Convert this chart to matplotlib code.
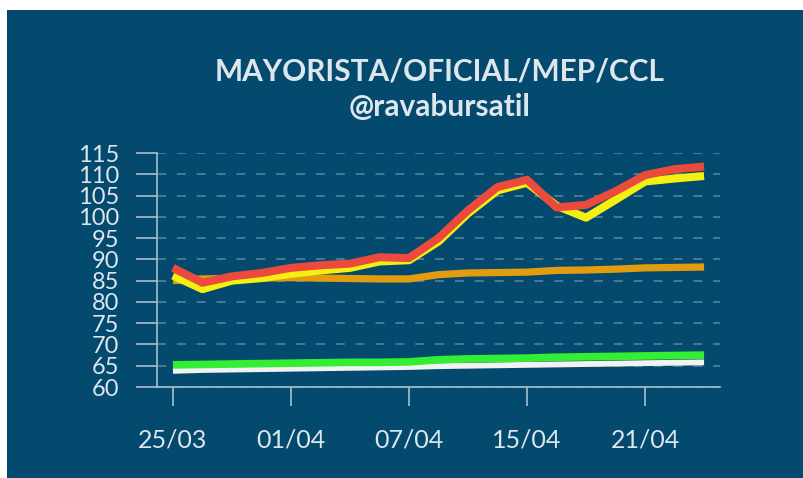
import matplotlib
matplotlib.use("Agg")
import matplotlib.pyplot as plt
from matplotlib.patches import Rectangle

# ---- data ----
tick_labels = ["25/03", "01/04", "07/04", "15/04", "21/04"]
tick_index = [0, 4, 8, 12, 16]

ccl = [88.0, 84.5, 86.0, 86.8, 88.0, 88.6, 89.0, 90.5, 90.3, 95.0, 101.5,
       107.0, 108.7, 102.2, 102.8, 106.0, 109.8, 111.2, 111.8]
mep = [86.2, 83.0, 85.0, 85.6, 86.6, 87.4, 88.0, 89.5, 89.8, 94.2, 100.8,
       106.2, 108.0, 102.6, 99.8, 104.0, 108.3, 109.0, 109.6]
oficial = [85.0, 85.4, 85.5, 85.6, 85.7, 85.6, 85.5, 85.4, 85.4, 86.4, 86.8,
           86.9, 87.0, 87.4, 87.5, 87.7, 88.0, 88.1, 88.2]
mayorista_green = [65.2, 65.3, 65.4, 65.5, 65.6, 65.7, 65.8, 65.8, 65.9, 66.4, 66.6,
                   66.7, 66.8, 67.0, 67.1, 67.2, 67.3, 67.4, 67.5]
white_line = [63.8, 64.0, 64.1, 64.2, 64.3, 64.4, 64.5, 64.6, 64.7, 64.9, 65.0,
              65.1, 65.2, 65.3, 65.4, 65.5, 65.6, 65.7, 65.8]

x = list(range(len(ccl)))

BG = "#044a6e"
TXT = "#dde6ec"

plt.rcParams['font.family'] = ['Lato', 'DejaVu Sans']

fig = plt.figure(figsize=(8.04, 4.78), dpi=100)
fig.patch.set_facecolor("white")
bg = Rectangle((7 / 804, 0), 1 - 7 / 804, 1 - 10 / 478,
               transform=fig.transFigure, facecolor=BG, edgecolor="none")
bg.set_zorder(-10)
fig.add_artist(bg)

ax = fig.add_axes([157 / 804, 91 / 478, (720 - 157) / 804, (387 - 153) / 478])
ax.set_zorder(5)
ax.patch.set_alpha(0)

lw = 5.8
ax.plot(x, white_line, color="#f2f2f2", lw=4.2, solid_capstyle="butt", zorder=3)
ax.plot(x, mayorista_green, color="#33ee33", lw=5.5, solid_capstyle="butt", zorder=4)
ax.plot(x, oficial, color="#e39c0e", lw=5.2, solid_capstyle="butt", zorder=3)
ax.plot(x, mep, color="#f4f012", lw=lw, solid_capstyle="butt", zorder=4)
ax.plot(x, ccl, color="#ec4a3c", lw=lw, solid_capstyle="butt", zorder=5)

ax.set_ylim(60, 115)
ax.set_xlim(-0.54, 18.54)
ax.set_yticks(list(range(60, 116, 5)))
ax.set_xticks(tick_index)
ax.set_xticklabels(tick_labels)

for s in ["top", "right"]:
    ax.spines[s].set_visible(False)
for s in ["left", "bottom"]:
    ax.spines[s].set_color("#a9bfcc")
    ax.spines[s].set_linewidth(1.2)

ax.tick_params(axis="y", colors="#a9bfcc", length=15, width=1.2, pad=12,
               labelcolor=TXT, labelsize=17)
ax.tick_params(axis="x", colors="#a9bfcc", length=14, width=1.2, pad=16,
               labelcolor=TXT, labelsize=18)

ax.yaxis.grid(True, color="#4f7c97", linestyle=(0, (5, 6)), linewidth=1.3)
ax.set_axisbelow(True)

fig.text(440 / 804, 1 - 71 / 478, "MAYORISTA/OFICIAL/MEP/CCL", color=TXT,
         fontsize=21.5, fontweight="bold", ha="center", va="center")
fig.text(440 / 804, 1 - 107 / 478, "@ravabursatil", color=TXT,
         fontsize=21.5, fontweight="bold", ha="center", va="center")

fig.savefig("out.png", dpi=100, facecolor=fig.get_facecolor())
